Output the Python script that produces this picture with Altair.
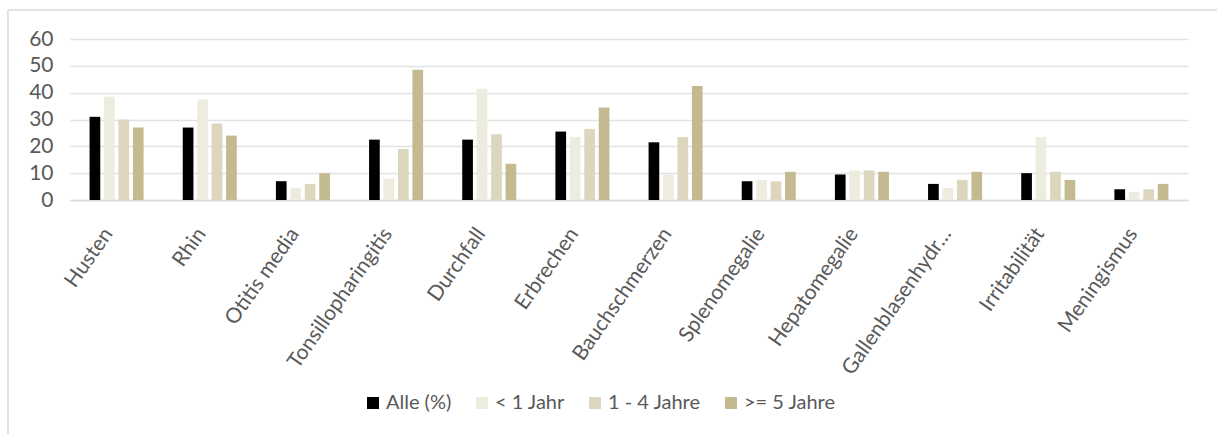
import altair as alt
import pandas as pd

categories = ["Husten", "Rhin", "Otitis media", "Tonsillopharingitis", "Durchfall",
              "Erbrechen", "Bauchschmerzen", "Splenomegalie", "Hepatomegalie",
              "Gallenblasenhydr…", "Irritabilität", "Meningismus"]
series = ["Alle (%)", "< 1 Jahr", "1 - 4 Jahre", ">= 5 Jahre"]
alle = [31, 27, 7, 22.5, 22.5, 25.5, 21.5, 7, 9.5, 6, 10, 4]
unter1 = [38.5, 37.5, 4.5, 8, 41.5, 23.5, 9.5, 7.5, 11, 4.5, 23.5, 3]
j1_4 = [30, 28.5, 6, 19, 24.5, 26.5, 23.5, 7, 11, 7.5, 10.5, 4]
ab5 = [27, 24, 10, 48.5, 13.5, 34.5, 42.5, 10.5, 10.5, 10.5, 7.5, 6]
colors = ["#000000", "#EEEBDF", "#DCD6BE", "#C4BA8F"]

rows = []
for s, vals in zip(series, [alle, unter1, j1_4, ab5]):
    for c, v in zip(categories, vals):
        rows.append({"Symptom": c, "Gruppe": s, "Wert": v})
df = pd.DataFrame(rows)

FONT = "Lato"
GRAY = "#595959"

bars = alt.Chart(df).mark_bar().encode(
    x=alt.X("Symptom:N", sort=categories, title=None,
            scale=alt.Scale(paddingInner=0.42, paddingOuter=0.21),
            axis=alt.Axis(labelAngle=-55, labelFontSize=21, labelColor=GRAY,
                          labelFont=FONT, ticks=False, domainColor="#D9D9D9",
                          domainWidth=1.5, labelPadding=30, labelOffset=-8,
                          labelLimit=400)),
    xOffset=alt.XOffset("Gruppe:N", sort=series,
                        scale=alt.Scale(paddingInner=0.26, paddingOuter=0)),
    y=alt.Y("Wert:Q", title=None,
            scale=alt.Scale(domain=[0, 60], nice=False),
            axis=alt.Axis(values=[0, 10, 20, 30, 40, 50, 60], labelFontSize=21,
                          labelColor=GRAY, labelFont=FONT, ticks=False, domain=False,
                          gridColor="#E3E3E3", gridWidth=1.5, labelPadding=17)),
    color=alt.Color("Gruppe:N", sort=series,
                    scale=alt.Scale(domain=series, range=colors),
                    legend=alt.Legend(title=None, orient="none", direction="horizontal",
                                      legendX=293, legendY=354, symbolType="square",
                                      symbolSize=144, symbolStrokeWidth=0,
                                      labelFontSize=20, labelColor=GRAY, labelFont=FONT,
                                      columnPadding=20, labelOffset=3)),
)

frame_top = alt.Chart(pd.DataFrame({"a": [0]})).mark_rule(color="#D9D9D9", strokeWidth=1.5).encode(
    x=alt.value(-62), x2=alt.value(1160), y=alt.value(-29)
)
frame_left = alt.Chart(pd.DataFrame({"a": [0]})).mark_rule(color="#D9D9D9", strokeWidth=1.5).encode(
    x=alt.value(-62), y=alt.value(-29), y2=alt.value(420)
)

chart = alt.layer(frame_top, frame_left, bars).properties(
    width=1118, height=161,
    padding={"left": 70, "top": 39, "right": 29, "bottom": 234},
    autosize=alt.AutoSizeParams(type="none"),
    background="white",
).configure_view(stroke=None)

chart.save("out.html", embed_options={"renderer": "svg", "actions": False})
